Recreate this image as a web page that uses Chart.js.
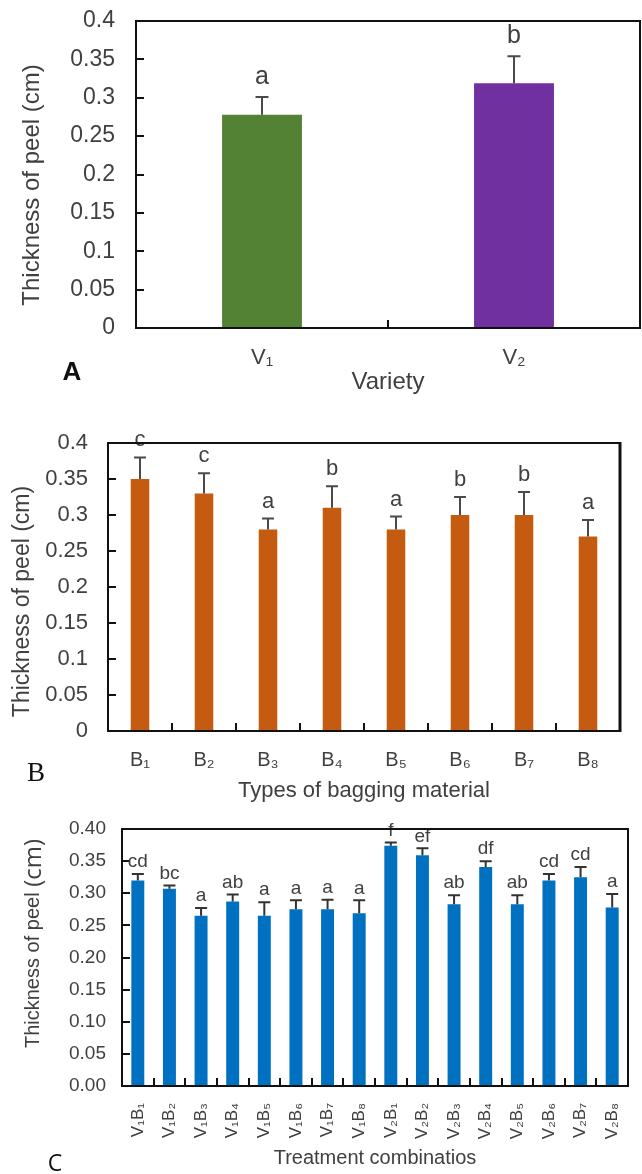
<!DOCTYPE html>
<html><head><meta charset="utf-8">
<script src="https://cdn.jsdelivr.net/npm/chart.js@4.4.1/dist/chart.umd.min.js"></script>
<style>
html,body{margin:0;padding:0;background:#fff;}
body{width:642px;height:1174px;position:relative;overflow:hidden;}
.wrap{position:absolute;left:0;width:642px;}
.wrap canvas{display:block;}
.panel{position:absolute;color:#111;line-height:1;transform:translate(-50%,-50%);white-space:nowrap;}
</style></head><body>
<div class="wrap" style="top:0;height:400px"><canvas id="cA" width="642" height="400"></canvas></div>
<div class="wrap" style="top:395px;height:410px"><canvas id="cB" width="642" height="410"></canvas></div>
<div class="wrap" style="top:805px;height:369px"><canvas id="cC" width="642" height="369"></canvas></div>
<div class="panel" style="left:72px;top:371px;font:bold 26px 'Liberation Sans',Arial,sans-serif">A</div>
<div class="panel" style="left:36px;top:772px;font:27px 'Liberation Serif','Times New Roman',serif">B</div>
<div class="panel" style="left:55px;top:1162px;font:23px 'Open Sans',sans-serif">C</div>
<script>
// ---------- data ----------
const varieties = ['V\u2081', 'V\u2082'];
const varietyMeans = [0.278, 0.319];
const varietyErrors = [0.023, 0.035];
const varietyLetters = ['a', 'b'];

const baggingTypes = ['B\u2081','B\u2082','B\u2083','B\u2084','B\u2085','B\u2086','B\u2087','B\u2088'];
const baggingMeans = [0.35, 0.33, 0.28, 0.31, 0.28, 0.30, 0.30, 0.27];
const baggingErrors = [0.03, 0.028, 0.015, 0.03, 0.018, 0.025, 0.032, 0.023];
const baggingLetters = ['c', 'c', 'a', 'b', 'a', 'b', 'b', 'a'];

const treatments = ['V\u2081B\u2081','V\u2081B\u2082','V\u2081B\u2083','V\u2081B\u2084','V\u2081B\u2085','V\u2081B\u2086','V\u2081B\u2087','V\u2081B\u2088',
                    'V\u2082B\u2081','V\u2082B\u2082','V\u2082B\u2083','V\u2082B\u2084','V\u2082B\u2085','V\u2082B\u2086','V\u2082B\u2087','V\u2082B\u2088'];
const treatmentMeans = [0.32, 0.307, 0.265, 0.287, 0.265, 0.275, 0.275, 0.269, 0.374, 0.359, 0.283, 0.341, 0.283, 0.32, 0.325, 0.278];
const treatmentErrors = [0.010, 0.005, 0.012, 0.011, 0.021, 0.014, 0.015, 0.020, 0.005, 0.011, 0.014, 0.009, 0.014, 0.010, 0.016, 0.021];
const treatmentLetters = ['cd','bc','a','ab','a','a','a','a','f','ef','ab','df','ab','cd','cd','a'];

const yTicksAB = ['0','0.05','0.1','0.15','0.2','0.25','0.3','0.35','0.4'];
const yTicksC = ['0.00','0.05','0.10','0.15','0.20','0.25','0.30','0.35','0.40'];

// ---------- styling ----------
const SANS = "'Liberation Sans', Arial, sans-serif";
const TXT = '#404040';

function boxPlugin(width, rightWidth) {
  return { id: 'box', afterDraw(chart) {
    const {ctx, chartArea: a} = chart;
    ctx.save();
    ctx.strokeStyle = '#111';
    ctx.lineWidth = width;
    ctx.strokeRect(a.left, a.top, a.right - a.left, a.bottom - a.top);
    if (rightWidth) {
      ctx.lineWidth = rightWidth;
      ctx.beginPath(); ctx.moveTo(a.right, a.top - 1); ctx.lineTo(a.right, a.bottom + 1); ctx.stroke();
    }
    ctx.restore();
  }};
}

function errPlugin(errors, letters, o) {
  return { id: 'errLetters', afterDatasetsDraw(chart) {
    const {ctx} = chart;
    const ys = chart.scales.y;
    const meta = chart.getDatasetMeta(0);
    const vals = chart.data.datasets[0].data;
    ctx.save();
    meta.data.forEach((bar, i) => {
      const y0 = ys.getPixelForValue(vals[i]);
      const y1 = ys.getPixelForValue(vals[i] + errors[i]);
      ctx.strokeStyle = o.color; ctx.lineWidth = o.lw;
      ctx.beginPath();
      ctx.moveTo(bar.x, y0); ctx.lineTo(bar.x, y1);
      ctx.moveTo(bar.x - o.cap / 2, y1); ctx.lineTo(bar.x + o.cap / 2, y1);
      ctx.stroke();
      ctx.fillStyle = TXT; ctx.font = o.font;
      ctx.textAlign = 'center'; ctx.textBaseline = 'middle';
      ctx.fillText(letters[i], bar.x, y1 - o.gap);
    });
    ctx.restore();
  }};
}

function yTitlePlugin(parts, cx, cy) {
  return { id: 'ytitle', afterDraw(chart) {
    const ctx = chart.ctx;
    ctx.save();
    ctx.translate(cx, cy); ctx.rotate(-Math.PI / 2);
    ctx.fillStyle = TXT; ctx.textBaseline = 'middle'; ctx.textAlign = 'left';
    let total = 0;
    const w = parts.map(p => { ctx.font = p.font; const m = ctx.measureText(p.text).width; total += m; return m; });
    let x = -total / 2;
    parts.forEach((p, i) => { ctx.font = p.font; ctx.fillText(p.text, x, p.dy || 0); x += w[i]; });
    ctx.restore();
  }};
}

function noPad(s) { s.paddingTop = 0; s.paddingBottom = 0; s.paddingLeft = 0; s.paddingRight = 0; }

function makeBar(id, labels, values, colors, frac, L) {
  return new Chart(document.getElementById(id), {
    type: 'bar',
    data: { labels, datasets: [{ data: values, backgroundColor: colors, borderWidth: 0,
      barPercentage: frac, categoryPercentage: 1 }] },
    options: {
      responsive: false, devicePixelRatio: 1, animation: false,
      layout: { padding: { top: L.top, right: L.right, left: 0, bottom: 0 } },
      plugins: { legend: { display: false }, tooltip: { enabled: false } },
      scales: {
        x: {
          offset: true,
          grid: { offset: true, drawOnChartArea: false, tickLength: -8, color: '#111', lineWidth: 2 },
          border: { display: false },
          ticks: { autoSkip: false, minRotation: L.rot, maxRotation: L.rot, color: TXT,
                   font: { family: SANS, size: L.xFont }, padding: L.xPad },
          title: { display: true, text: L.xTitle, color: TXT, font: { family: SANS, size: L.xTitleFont },
                   padding: { top: 0, bottom: L.xTitlePad } },
          afterFit: s => { s.height = L.xHeight; noPad(s); }
        },
        y: {
          min: 0, max: 0.4,
          grid: { drawOnChartArea: false, tickLength: -8, color: '#111', lineWidth: 2 },
          border: { display: false },
          ticks: { stepSize: 0.05, color: TXT, font: { family: SANS, size: L.yFont }, padding: L.yPad,
                   callback: v => L.yLabels[Math.round(v * 20)] },
          afterFit: s => { s.width = L.yWidth; noPad(s); }
        }
      }
    },
    plugins: L.plugins
  });
}

// Panel A
makeBar('cA', varieties, varietyMeans, ['#548235', '#7030A0'], 0.317, {
  top: 21, right: 2, rot: 0, xFont: 22, xPad: 25, xTitle: 'Variety', xTitleFont: 24, xTitlePad: 3,
  xHeight: 72, yFont: 23, yPad: 29, yWidth: 136, yLabels: yTicksAB,
  plugins: [errPlugin(varietyErrors, varietyLetters, { color: '#4a4a4a', lw: 2, cap: 13, gap: 20, font: '25px ' + SANS }),
            boxPlugin(2), yTitlePlugin([{ text: 'Thickness of peel (cm)', font: '24px ' + SANS }], 32, 185)]
});

// Panel B
makeBar('cB', baggingTypes, baggingMeans, '#C55A11', 0.29, {
  top: 48, right: 22, rot: 0, xFont: 20, xPad: 25, xTitle: 'Types of bagging material', xTitleFont: 22, xTitlePad: 1,
  xHeight: 74, yFont: 22, yPad: 28, yWidth: 108, yLabels: yTicksAB,
  plugins: [errPlugin(baggingErrors, baggingLetters, { color: '#4a4a4a', lw: 2, cap: 12, gap: 17, font: '22px ' + SANS }),
            boxPlugin(2, 3), yTitlePlugin([{ text: 'Thickness of peel (cm)', font: '23px ' + SANS }], 22.5, 206.5)]
});

// Panel C
makeBar('cC', treatments, treatmentMeans, '#0070C0', 0.41, {
  top: 24, right: 14, rot: 90, xFont: 17, xPad: 25, xTitle: 'Treatment combinatios', xTitleFont: 20, xTitlePad: 4,
  xHeight: 88, yFont: 19, yPad: 24, yWidth: 122, yLabels: yTicksC,
  plugins: [errPlugin(treatmentErrors, treatmentLetters, { color: '#333', lw: 2, cap: 12, gap: 12, font: '19px ' + SANS }),
            boxPlugin(2), yTitlePlugin([{ text: 'Thickness of peel ', font: '20px ' + SANS },
                                        { text: '(cm)', font: "24px 'Open Sans', sans-serif", dy: 1 }], 33, 138.5)]
});
</script>
</body></html>
